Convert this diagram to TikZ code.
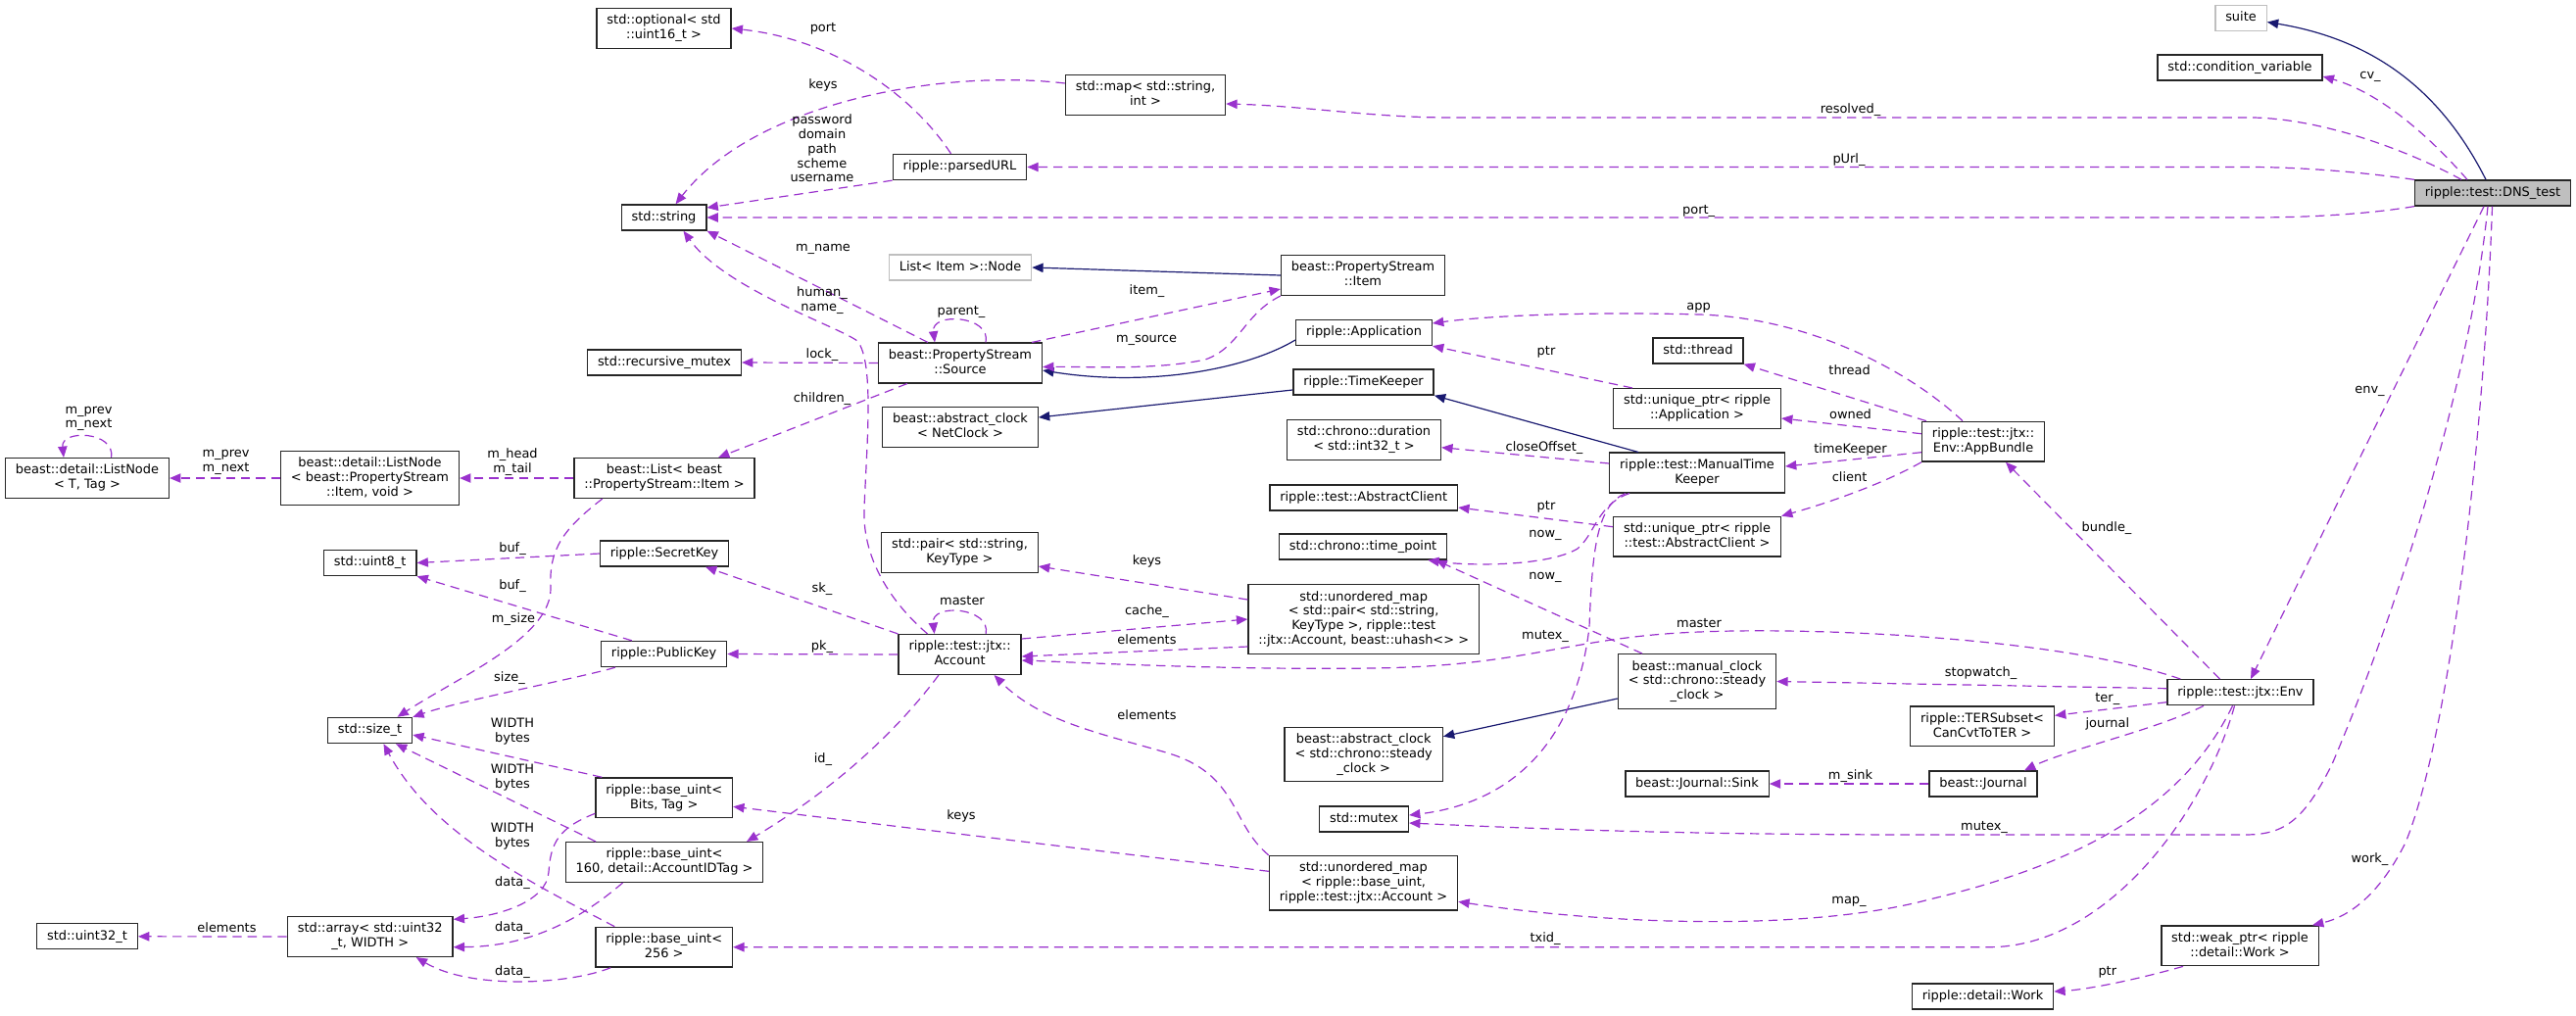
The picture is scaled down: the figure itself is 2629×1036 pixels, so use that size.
\documentclass[tikz,border=0pt]{standalone}
\usepackage{fontspec}
\setmainfont{DejaVu Sans}
\usetikzlibrary{arrows.meta}
\usetikzlibrary{calc}
\definecolor{usecol}{HTML}{9A32CD}
\definecolor{inhcol}{HTML}{191970}
\definecolor{boxgray}{HTML}{BFBFBF}

\begin{document}
\begin{tikzpicture}[x=0.75pt,y=-0.75pt,
  cls/.style={draw=black!85,line width=1pt,fill=white,align=center,
    inner xsep=7.8pt,inner ysep=4.9pt,font=\fontsize{9.7}{11.1}\selectfont,
    execute at begin node={\rule[-2.3pt]{0pt}{9.7pt}},
    execute at end node={\rule[-2.3pt]{0pt}{9.7pt}}},
  gcls/.style={cls,draw=boxgray},
  dcls/.style={cls,fill=boxgray},
  lbl/.style={align=center,inner sep=0pt,font=\fontsize{9.7}{11.1}\selectfont,
    execute at begin node={\rule[-2.3pt]{0pt}{9.7pt}},
    execute at end node={\rule[-2.3pt]{0pt}{9.7pt}}},
  use/.style={draw=usecol,line width=0.9pt,dash pattern=on 7pt off 4.5pt,
    -{Triangle[length=8.5pt,width=7pt]}},
  inh/.style={draw=inhcol,line width=0.9pt,-{Triangle[length=8.5pt,width=7pt]}}]
\useasboundingbox (0,0) rectangle (2629,1036);

% classes
\node[cls] (optional) at (677.5,29) {std::optional< std\\::uint16\_t >};
\node[cls] (string) at (677.5,222) {std::string};
\node[cls] (parsedurl) at (979.5,170.5) {ripple::parsedURL};
\node[cls] (map) at (1169,97) {std::map< std::string,\\int >};
\node[gcls] (listnode) at (980,273) {List< Item >::Node};
\node[cls] (psitem) at (1391,281) {beast::PropertyStream\\::Item};
\node[cls] (app) at (1392,339.5) {ripple::Application};
\node[gcls] (suite) at (2287,18.5) {suite};
\node[cls] (condvar) at (2286,69) {std::condition\_variable};
\node[dcls] (dns) at (2544,197) {ripple::test::DNS\_test};
\node[cls] (recmutex) at (678,370) {std::recursive\_mutex};
\node[cls] (source) at (980,370.5) {beast::PropertyStream\\::Source};
\node[cls] (netclock) at (980,436) {beast::abstract\_clock\\< NetClock >};
\node[cls] (timekeeper) at (1391.5,390) {ripple::TimeKeeper};
\node[cls] (thread) at (1733,358) {std::thread};
\node[cls] (uptrapp) at (1732,417) {std::unique\_ptr< ripple\\::Application >};
\node[cls] (duration) at (1392,449) {std::chrono::duration\\< std::int32\_t >};
\node[cls] (manualtk) at (1732,482.5) {ripple::test::ManualTime\\Keeper};
\node[cls] (appbundle) at (2024,450.7) {ripple::test::jtx::\\Env::AppBundle};
\node[cls] (absclient) at (1391.7,508) {ripple::test::AbstractClient};
\node[cls] (uptrclient) at (1732,547.7) {std::unique\_ptr< ripple\\::test::AbstractClient >};
\node[cls] (timepoint) at (1391,558) {std::chrono::time\_point};
\node[cls] (listnodeT) at (89,488) {beast::detail::ListNode\\< T, Tag >};
\node[cls] (listnodeI) at (377.5,488) {beast::detail::ListNode\\< beast::PropertyStream\\::Item, void >};
\node[cls] (beastlist) at (678,488) {beast::List< beast\\::PropertyStream::Item >};
\node[cls] (uint8) at (377.7,574.5) {std::uint8\_t};
\node[cls] (secretkey) at (678,565) {ripple::SecretKey};
\node[cls] (pair) at (979.5,564) {std::pair< std::string,\\KeyType >};
\node[cls] (umapacct) at (1391.7,632) {std::unordered\_map\\< std::pair< std::string,\\KeyType >, ripple::test\\::jtx::Account, beast::uhash<> >};
\node[cls] (publickey) at (677.6,667.5) {ripple::PublicKey};
\node[cls] (account) at (979.6,668) {ripple::test::jtx::\\Account};
\node[cls] (manualclock) at (1732,695.5) {beast::manual\_clock\\< std::chrono::steady\\\_clock >};
\node[cls] (env) at (2286.5,706.7) {ripple::test::jtx::Env};
\node[cls] (tersubset) at (2023,741.3) {ripple::TERSubset<\\CanCvtToTER >};
\node[cls] (sizet) at (377.5,745.5) {std::size\_t};
\node[cls] (steadyclock) at (1391.7,770) {beast::abstract\_clock\\< std::chrono::steady\\\_clock >};
\node[cls] (sink) at (1732,800) {beast::Journal::Sink};
\node[cls] (journal) at (2024,800) {beast::Journal};
\node[cls] (basebits) at (677.7,814.3) {ripple::base\_uint<\\Bits, Tag >};
\node[cls] (mutex) at (1392,836) {std::mutex};
\node[cls] (base160) at (678,880) {ripple::base\_uint<\\160, detail::AccountIDTag >};
\node[cls] (umapbase) at (1391.5,901.3) {std::unordered\_map\\< ripple::base\_uint,\\ripple::test::jtx::Account >};
\node[cls] (uint32) at (89,955.8) {std::uint32\_t};
\node[cls] (array) at (377.7,956) {std::array< std::uint32\\\_t, WIDTH >};
\node[cls] (base256) at (677.7,966.7) {ripple::base\_uint<\\256 >};
\node[cls] (weakptr) at (2286,965.3) {std::weak\_ptr< ripple\\::detail::Work >};
\node[cls] (work) at (2023.5,1017) {ripple::detail::Work};

% inheritance
\draw[inh] ($(dns.north)+(-7,0)$) .. controls (2490,90) and (2420,40) .. ($(suite.east)+(0,4)$);
\draw[inh] (psitem.west) -- (listnode.east);
\draw[inh] ($(app.west)+(0,7.5)$) .. controls (1270,378) and (1170,395) .. ($(source.east)+(0,7.5)$);
\draw[inh] ($(timekeeper.west)+(0,8)$) -- ($(netclock.east)+(0,-10)$);
\draw[inh] ($(manualtk.north)+(-60,0)$) -- (timekeeper.south east);
\draw[inh] ($(manualclock.west)+(0,17.5)$) -- ($(steadyclock.east)+(0,-18.3)$);

% members of DNS_test
\draw[use] ($(dns.north)+(-26,0)$) .. controls (2480,140) and (2430,95) .. ($(condvar.east)+(0,9)$);
\draw[use] ($(dns.north)+(-32,0)$) .. controls (2470,160) and (2380,122) .. (2300,120) -- (1480,120)
  .. controls (1400,120) and (1330,108) .. ($(map.east)+(0,9)$);
\draw[use] (dns.north west) .. controls (2420,177) and (2360,171) .. (2300,170.5) -- (parsedurl.east);
\draw[use] (dns.south west) .. controls (2420,218) and (2360,222) .. (2300,222) -- (string.east);
\draw[use] ($(dns.south)+(-9,0)$) -- ($(env.north)+(10.5,0)$);
\draw[use] ($(dns.south)+(-5,0)$) .. controls (2520,400) and (2440,640) .. (2380,780)
  .. controls (2350,840) and (2330,852) .. (2290,852) -- (1969,852)
  .. controls (1700,852) and (1550,845) .. ($(mutex.east)+(0,4)$);
\draw[use] ($(dns.south)+(-0.5,0)$) .. controls (2535,450) and (2500,750) .. (2455,860)
  .. controls (2430,910) and (2400,935) .. ($(weakptr.north)+(74,0)$);

% upper left
\draw[use] ($(map.west)+(0,-12)$) .. controls (960,70) and (770,105) .. ($(string.north)+(12,0)$);
\draw[use] (parsedurl.south west) -- ($(string.east)+(0,-10)$);
\draw[use] ($(parsedurl.north)+(-9,0)$) .. controls (930,95) and (850,40) .. (optional.east);
\draw[use] ($(source.north)+(-33,0)$) -- (string.south east);
\draw[use] ($(account.north)+(-33,0)$) .. controls (915,620) and (880,575) .. (882,520)
  .. controls (884,460) and (893,370) .. (875,348)
  .. controls (855,333) and (740,295) .. ($(string.south)+(20,0)$);
\draw[use] ($(source.north)+(26,0)$) .. controls (1012,322) and (950,318) .. ($(source.north)+(-26,0)$);
\draw[use] ($(source.north)+(73,0)$) -- ($(psitem.west)+(0,14)$);
\draw[use] (psitem.south west) .. controls (1270,320) and (1265,355) .. (1230,367)
  .. controls (1180,378) and (1110,374) .. ($(source.east)+(0,4)$);
\draw[use] (source.west) -- (recmutex.east);
\draw[use] ($(source.south west)+(30,0)$) -- ($(beastlist.north)+(55,0)$);
\draw[use] (beastlist.west) -- (listnodeI.east);
\draw[use] (listnodeI.west) -- (listnodeT.east);
\draw[use] ($(listnodeT.north)+(24.6,0)$) .. controls (118,440) and (62,438) .. ($(listnodeT.north)+(-24,0)$);
\draw[use] ($(beastlist.south west)+(29.5,0)$) .. controls (575,540) and (560,560) .. (562,600)
  .. controls (563,650) and (470,690) .. ($(sizet.north)+(28,0)$);

% keys and account
\draw[use] (secretkey.west) -- (uint8.east);
\draw[use] ($(publickey.north west)+(32,0)$) -- (uint8.south east);
\draw[use] ($(publickey.south west)+(15,0)$) .. controls (600,690) and (470,715) .. (sizet.north east);
\draw[use] (account.north west) -- ($(secretkey.south)+(42,0)$);
\draw[use] (account.west) -- (publickey.east);
\draw[use] ($(account.north)+(26.5,0)$) .. controls (1012,620) and (950,615) .. ($(account.north)+(-26,0)$);
\draw[use] ($(account.east)+(0,-16)$) -- (umapacct.west);
\draw[use] ($(umapacct.west)+(0,-20)$) -- ($(pair.east)+(0,14)$);
\draw[use] ($(umapacct.west)+(0,28)$) -- ($(account.east)+(0,2)$);
\draw[use] ($(account.south)+(-21.6,0)$) .. controls (920,740) and (860,800) .. ($(base160.north)+(84,0)$);

% Env
\draw[use] ($(env.north west)+(14,0)$) .. controls (2100,650) and (1850,640) .. (1734,645)
  .. controls (1600,650) and (1560,680) .. (1400,682)
  .. controls (1250,684) and (1100,676) .. ($(account.east)+(0,6)$);
\draw[use] ($(env.north)+(-21,0)$) -- ($(appbundle.south)+(23,0)$);
\draw[use] ($(env.west)+(0,-4)$) -- (manualclock.east);
\draw[use] ($(env.west)+(0,10)$) -- ($(tersubset.east)+(0,-11)$);
\draw[use] ($(env.south)+(-37.5,0)$) .. controls (2200,745) and (2110,765) .. ($(journal.north)+(42,0)$);
\draw[use] (journal.west) -- (sink.east);
\draw[use] ($(env.south)+(-8,0)$) .. controls (2230,820) and (2130,880) .. (1969,918)
  .. controls (1850,950) and (1650,945) .. ($(umapbase.east)+(0,19)$);
\draw[use] ($(env.south)+(-6,0)$) .. controls (2250,830) and (2150,966.7) .. (2030,966.7) -- (base256.east);
\draw[use] ($(weakptr.south)+(-58,0)$) .. controls (2180,1000) and (2130,1010) .. ($(work.east)+(0,-5)$);

% AppBundle
\draw[use] ($(appbundle.north)+(-21,0)$) .. controls (1950,380) and (1850,325) .. (1735,321)
  .. controls (1620,318) and (1520,322) .. ($(app.east)+(0,-9.5)$);
\draw[use] ($(appbundle.north west)+(5,0)$) -- (thread.south east);
\draw[use] ($(appbundle.west)+(0,-8)$) -- ($(uptrapp.east)+(0,10)$);
\draw[use] ($(appbundle.west)+(0,11)$) -- ($(manualtk.east)+(0,-6.5)$);
\draw[use] (appbundle.south west) .. controls (1920,495) and (1860,515) .. (uptrclient.north east);
\draw[use] ($(uptrapp.north west)+(20,0)$) -- (app.south east);
\draw[use] ($(manualtk.west)+(0,-9.5)$) -- ($(duration.east)+(0,7.7)$);
\draw[use] ($(uptrclient.west)+(0,-10)$) -- ($(absclient.east)+(0,10)$);
\draw[use] ($(manualtk.south)+(-69,0)$) .. controls (1630,515) and (1628,545) .. (1610,560)
  .. controls (1580,578) and (1500,578) .. ($(timepoint.south east)+(-20,0)$);
\draw[use] ($(manualclock.north)+(-56,0)$) -- ($(timepoint.south east)+(-12,0)$);
\draw[use] ($(manualtk.south)+(-73,0)$) .. controls (1630,515) and (1625,560) .. (1622,640)
  .. controls (1608,760) and (1540,820) .. ($(mutex.east)+(0,-4)$);

% base_uint and friends
\draw[use] (umapbase.north west) .. controls (1255,840) and (1265,790) .. (1190,768)
  .. controls (1120,748) and (1060,735) .. ($(account.south)+(35,0)$);
\draw[use] ($(umapbase.west)+(0,-12)$) -- ($(basebits.east)+(0,9)$);
\draw[use] ($(basebits.north west)+(7,0)$) -- ($(sizet.east)+(0,4.5)$);
\draw[use] ($(base160.north west)+(31.5,0)$) -- ($(sizet.south)+(26.5,0)$);
\draw[use] ($(base256.north west)+(20,0)$) .. controls (540,900) and (440,850) .. ($(sizet.south)+(14,0)$);
\draw[use] ($(basebits.west)+(0,16)$) .. controls (570,845) and (562,860) .. (560,890)
  .. controls (558,920) and (510,935) .. ($(array.east)+(0,-17.7)$);
\draw[use] ($(base160.south)+(-42.5,0)$) .. controls (590,940) and (540,966) .. ($(array.east)+(0,10.7)$);
\draw[use] ($(base256.south west)+(16,0)$) .. controls (580,1005) and (480,1010) .. ($(array.south)+(47,0)$);
\draw[use] (array.west) -- (uint32.east);

% edge labels
\node[lbl] (lcv) at (2419,77) {cv\_};
\node[lbl] (lres) at (1888.5,112) {resolved\_};
\node[lbl] (lpurl) at (1887,163) {pUrl\_};
\node[lbl] (lportb) at (1733.6,215) {port\_};
\node[lbl] (lkeysa) at (840,87) {keys};
\node[lbl] (lpass) at (839,153) {password\\domain\\path\\scheme\\username};
\node[lbl] (lport) at (840,29) {port};
\node[lbl] (lmname) at (840,253) {m\_name};
\node[lbl] (lhuman) at (839,307) {human\_\\name\_};
\node[lbl] (lparent) at (981,318) {parent\_};
\node[lbl] (litem) at (1170.5,297) {item\_};
\node[lbl] (lmsource) at (1170,346) {m\_source};
\node[lbl] (llock) at (839,361.7) {lock\_};
\node[lbl] (lchildren) at (839,406.7) {children\_};
\node[lbl] (lheadtail) at (523,472) {m\_head\\m\_tail};
\node[lbl] (lprevnext) at (230.6,472) {m\_prev\\m\_next};
\node[lbl] (lself) at (90.5,427.5) {m\_prev\\m\_next};
\node[lbl] (lmsize) at (524,632) {m\_size};
\node[lbl] (lbufa) at (523,560) {buf\_};
\node[lbl] (lbufb) at (523,598) {buf\_};
\node[lbl] (lsize) at (520,692) {size\_};
\node[lbl] (lsk) at (839,600.7) {sk\_};
\node[lbl] (lpk) at (839,660) {pk\_};
\node[lbl] (lmaster) at (982,614) {master};
\node[lbl] (lcache) at (1170.5,624) {cache\_};
\node[lbl] (lkeysb) at (1170.5,572.7) {keys};
\node[lbl] (lelema) at (1170.5,654) {elements};
\node[lbl] (lmasterb) at (1734,636.7) {master};
\node[lbl] (lenv) at (2418.5,398) {env\_};
\node[lbl] (lbundle) at (2150,539) {bundle\_};
\node[lbl] (lstop) at (2021.6,687) {stopwatch\_};
\node[lbl] (lter) at (2150.8,712.7) {ter\_};
\node[lbl] (ljournal) at (2150.8,739.3) {journal};
\node[lbl] (lsink) at (1888.5,791.7) {m\_sink};
\node[lbl] (lmap) at (1887,919.3) {map\_};
\node[lbl] (ltxid) at (1577,958.3) {txid\_};
\node[lbl] (lmutex) at (2025,844) {mutex\_};
\node[lbl] (lwork) at (2418.5,876.7) {work\_};
\node[lbl] (lptrc) at (2150.8,991.7) {ptr};
\node[lbl] (lapp) at (1733.6,313) {app};
\node[lbl] (lthread) at (1887.6,379) {thread};
\node[lbl] (lowned) at (1888.5,423.7) {owned};
\node[lbl] (ltk) at (1888.5,459) {timeKeeper};
\node[lbl] (lclient) at (1887.6,487.7) {client};
\node[lbl] (lptra) at (1578,359) {ptr};
\node[lbl] (lclose) at (1576,456.7) {closeOffset\_};
\node[lbl] (lptrb) at (1578,517) {ptr};
\node[lbl] (lnowa) at (1577,545) {now\_};
\node[lbl] (lnowb) at (1577,587.7) {now\_};
\node[lbl] (lmutexb) at (1577,649) {mutex\_};
\node[lbl] (lelemb) at (1170.5,730.7) {elements};
\node[lbl] (lkeysc) at (981,832.7) {keys};
\node[lbl] (lid) at (840,775) {id\_};
\node[lbl] (lwba) at (523,746.7) {WIDTH\\bytes};
\node[lbl] (lwbb) at (523,793.7) {WIDTH\\bytes};
\node[lbl] (lwbc) at (523,853.7) {WIDTH\\bytes};
\node[lbl] (ldataa) at (523,900.7) {data\_};
\node[lbl] (ldatab) at (523,946.7) {data\_};
\node[lbl] (ldatac) at (523,991.7) {data\_};
\node[lbl] (lelemc) at (231.5,947.7) {elements};
\end{tikzpicture}
\end{document}
